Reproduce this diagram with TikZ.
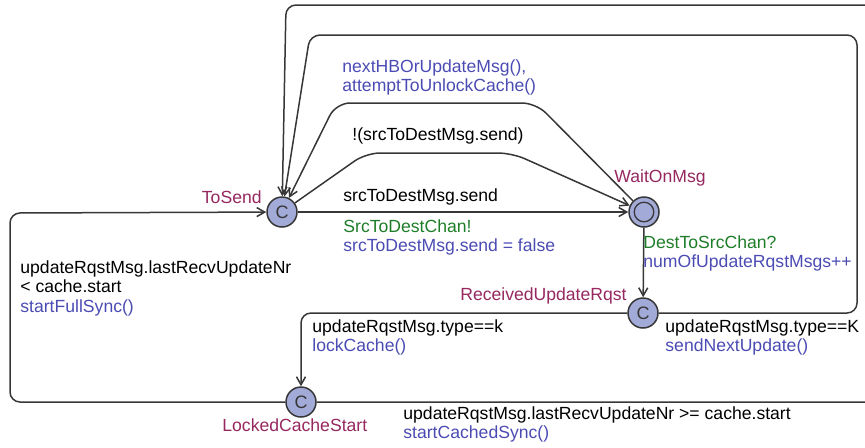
\documentclass[tikz,border=0pt]{standalone}
\usepackage{fontspec}
\setmainfont{Liberation Sans}
\usetikzlibrary{arrows.meta}
\definecolor{locname}{RGB}{150,40,95}
\definecolor{syncgreen}{RGB}{30,125,40}
\definecolor{updblue}{RGB}{75,75,180}
\definecolor{locfill}{RGB}{162,170,215}
\definecolor{edgegray}{RGB}{55,55,55}

\begin{document}
\begin{tikzpicture}[x=0.5pt,y=-0.5pt,>={Straight Barb[length=4pt,width=4.5pt]},
	font=\fontsize{8.8}{9.8}\selectfont,
	loc/.style={circle,draw=edgegray,line width=0.75pt,fill=locfill,minimum size=15pt,inner sep=0pt,font=\fontsize{9}{9}\selectfont,text=edgegray},
	initloc/.style={loc,path picture={\draw[edgegray,line width=0.65pt] (path picture bounding box.center) circle (4.9pt);}},
	edge/.style={->,edgegray,line width=0.75pt,rounded corners=5pt},
	lbl/.style={inner sep=0pt,align=left}]
		\useasboundingbox (0,0) rectangle (865,447);
		\clip (0,0) rectangle (865,447);
		\node[loc] (tosend) at (282,212) {C};
		\node[initloc] (wait) at (644,212) {};
		\node[loc] (rur) at (643,313) {C};
		\node[loc] (lcs) at (301,402) {C};
		\node[lbl,text=locname,anchor=east] (n1) at (262,197) {ToSend};
		\node[lbl,text=locname,anchor=west] (n2) at (614,178) {WaitOnMsg};
		\node[lbl,text=locname,anchor=east] (n3) at (627,296) {ReceivedUpdateRqst};
		\node[lbl,text=locname,anchor=west] (n4) at (222,425) {LockedCacheStart};
		% edges
		\draw[edge] (tosend) -- (wait);
		\draw[edge,rounded corners=7pt] (tosend) -- (366,153) -- (512,153) -- (wait);
		\draw[edge,rounded corners=7pt] (wait) -- (536,103) -- (336,103) -- (tosend);
		\draw[edge] (wait) -- (rur);
		\draw[edge] (rur) -| (lcs);
		\draw[edge] (rur) -- (857,313) |- (310,35) -- (tosend);
		\draw[edge] (lcs) -- (900,402) |- (286,5) -- (tosend);
		\draw[edge] (lcs) -| (10,213) -- (tosend);
		% labels
		\node[lbl,text=updblue,anchor=north west] (l1) at (342,59) {nextHBOrUpdateMsg(),\\attemptToUnlockCache()};
		\node[lbl,anchor=west] (l2) at (352,136) {!(srcToDestMsg.send)};
		\node[lbl,anchor=west] (l3) at (343,197) {srcToDestMsg.send};
		\node[lbl,text=syncgreen,anchor=north west] (l4) at (343,219) {SrcToDestChan!\\\textcolor{updblue}{srcToDestMsg.send = false}};
		\node[lbl,text=syncgreen,anchor=north west] (l5) at (643,235) {DestToSrcChan?\\\textcolor{updblue}{numOfUpdateRqstMsgs++}};
		\node[lbl,anchor=north west] (l6) at (20,260) {updateRqstMsg.lastRecvUpdateNr\\< cache.start\\\textcolor{updblue}{startFullSync()}};
		\node[lbl,anchor=north west] (l7) at (312,319) {updateRqstMsg.type==k\\\textcolor{updblue}{lockCache()}};
		\node[lbl,anchor=north west] (l8) at (665,319) {updateRqstMsg.type==K\\\textcolor{updblue}{sendNextUpdate()}};
		\node[lbl,anchor=north west] (l9) at (403,406) {updateRqstMsg.lastRecvUpdateNr >= cache.start\\\textcolor{updblue}{startCachedSync()}};
\end{tikzpicture}
\end{document}
